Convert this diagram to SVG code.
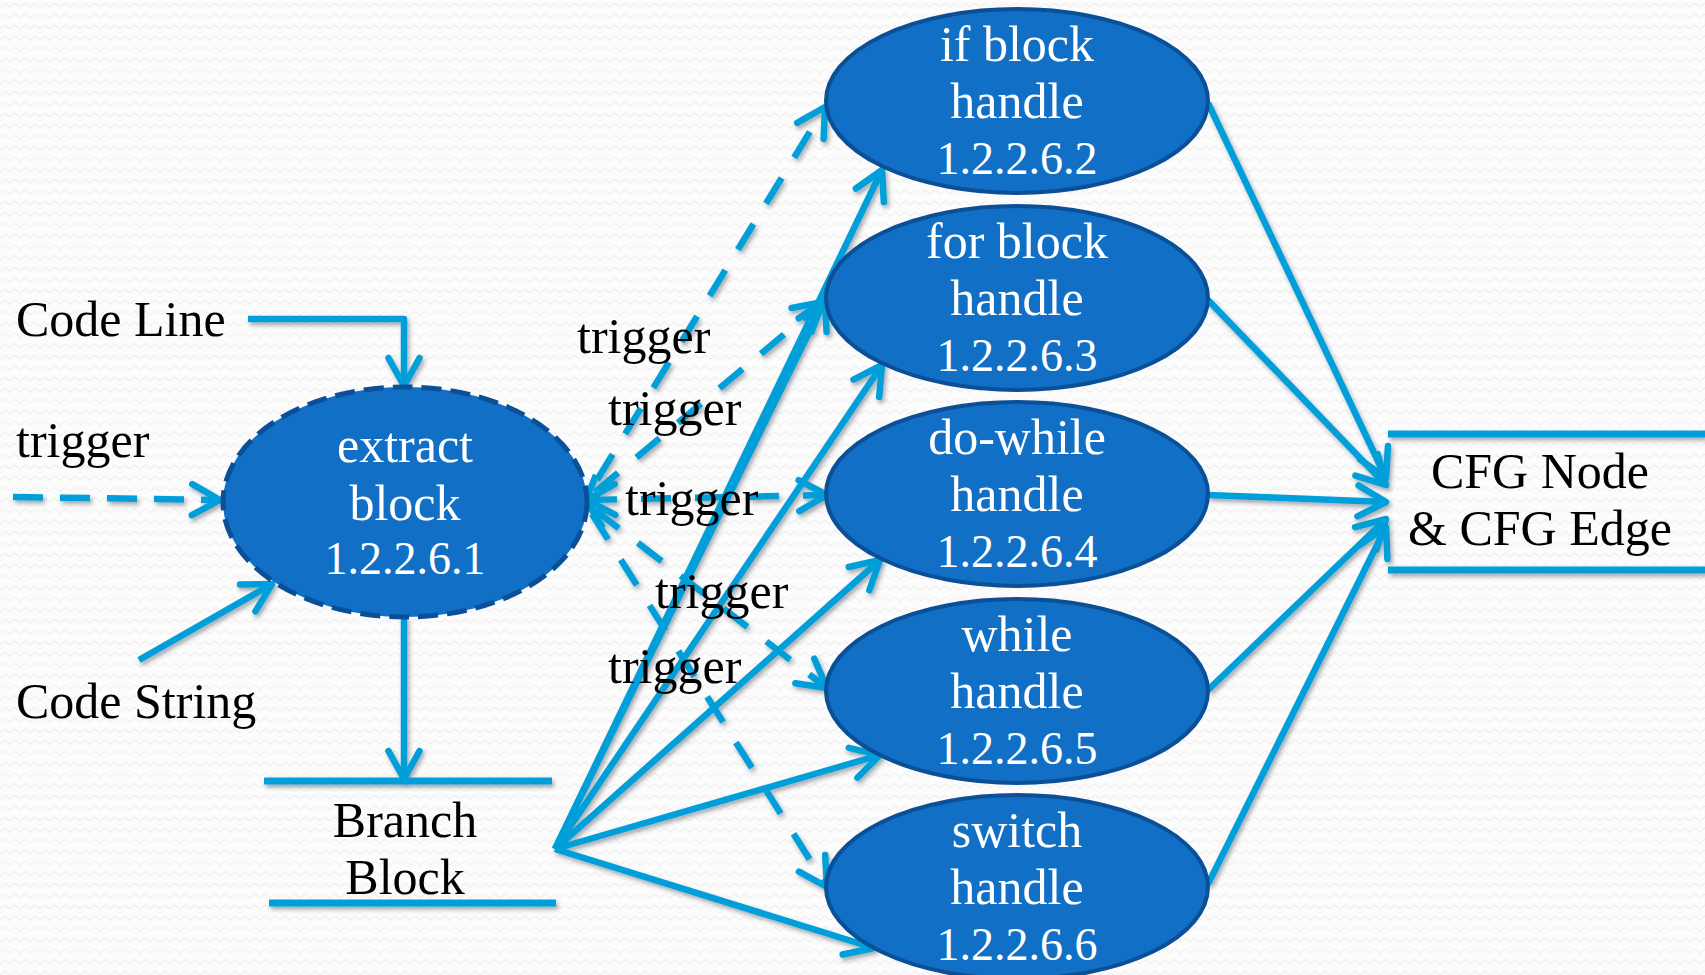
<svg xmlns="http://www.w3.org/2000/svg" width="1705" height="975" viewBox="0 0 1705 975">
  <defs>
    <style>
      .lbl { font-family: "Liberation Serif", "Times New Roman", serif; font-size: 50px; fill: #000; }
      .ntx { font-family: "Liberation Serif", "Times New Roman", serif; font-size: 50px; fill: #fff; text-anchor: middle; }
      .num { font-size: 46px; }
      .mid { text-anchor: middle; }
      .node { fill: #116fc6; stroke: #0b4f96; stroke-width: 4; }
      .node-dash { fill: #116fc6; stroke: #0b4f96; stroke-width: 5; stroke-dasharray: 20 9; }
      .c { fill: none; stroke: #049fd9; stroke-width: 6.5; stroke-linecap: butt; stroke-linejoin: round; }
      .dash { stroke-dasharray: 30 24; }
      .dash-in { stroke-dasharray: 30 17; }
      .store { fill: none; stroke: #049fd9; stroke-width: 7; }
      .end { marker-end: url(#ah); }
      .both { marker-start: url(#ahs); marker-end: url(#ah); }
    </style>
    <pattern id="bgwave" width="10" height="11" patternUnits="userSpaceOnUse">
      <rect width="10" height="11" fill="#fcfcfc"/>
      <path d="M0,7 L5,3 L10,7" fill="none" stroke="#f0f0f0" stroke-width="1.2"/>
    </pattern>
    <filter id="shadow" filterUnits="userSpaceOnUse" x="0" y="0" width="1705" height="975">
      <feDropShadow dx="2" dy="3" stdDeviation="2.2" flood-color="#203040" flood-opacity="0.4"/>
    </filter>
    <marker id="ah" markerUnits="userSpaceOnUse" markerWidth="70" markerHeight="70" viewBox="-40 -35 70 70" refX="0" refY="0" orient="auto" overflow="visible">
      <path d="M-28,-15.5 L0,0 L-28,15.5" fill="none" stroke="#049fd9" stroke-width="6.5" stroke-dasharray="none" stroke-linecap="round" stroke-linejoin="round"/>
    </marker>
    <marker id="ahs" markerUnits="userSpaceOnUse" markerWidth="70" markerHeight="70" viewBox="-40 -35 70 70" refX="0" refY="0" orient="auto-start-reverse" overflow="visible">
      <path d="M-28,-15.5 L0,0 L-28,15.5" fill="none" stroke="#049fd9" stroke-width="6.5" stroke-dasharray="none" stroke-linecap="round" stroke-linejoin="round"/>
    </marker>
  </defs>

  <!-- page background -->
  <rect width="1705" height="975" fill="url(#bgwave)"/>

  <!-- connectors -->
  <g id="connectors" filter="url(#shadow)">
    <!-- inputs to extract block -->
    <path class="c end" d="M248,319 H404 V386"/>
    <path class="c dash-in end" d="M13,497 L220,500"/>
    <path class="c end" d="M139,660 L272,584"/>
    <!-- extract block to branch store -->
    <path class="c end" d="M404,617 V779"/>

    <!-- trigger edges from extract block -->
    <path class="c dash end" d="M597,480 L825,107"/>
    <path class="c dash end" d="M595,492 L823,302"/>
    <path class="c dash both" d="M587,500 L827,495"/>
    <path class="c" d="M596,475 L586,500 L603,528"/>
    <path class="c dash end" d="M595,510 L827,688"/>
    <path class="c dash end" d="M592,514 L827,887"/>

    <!-- branch store fan-out to handlers -->
    <path class="c end" d="M555,849 L882,170"/>
    <path class="c end" d="M555,849 L825,300"/>
    <path class="c end" d="M555,849 L882,365"/>
    <path class="c end" d="M555,849 L880,560"/>
    <path class="c end" d="M555,849 L880,755"/>
    <path class="c end" d="M555,849 L874,948"/>

    <!-- handlers to CFG store -->
    <path class="c end" d="M1208,103 L1386,478"/>
    <path class="c end" d="M1208,300 L1386,485"/>
    <path class="c end" d="M1208,495 L1386,502"/>
    <path class="c end" d="M1208,690 L1386,519"/>
    <path class="c end" d="M1208,884 L1386,527"/>
  </g>

  <!-- input labels -->
  <g id="code-line"><text class="lbl" x="16" y="336">Code Line</text></g>
  <g id="trigger-in"><text class="lbl" x="16" y="457">trigger</text></g>
  <g id="code-string"><text class="lbl" x="16" y="718">Code String</text></g>

  <!-- process nodes -->
  <g id="extract-block">
    <ellipse class="node-dash" cx="405" cy="502" rx="182" ry="115"/>
    <text class="ntx" x="405" y="462">extract</text>
    <text class="ntx" x="405" y="520">block</text>
    <text class="ntx num" x="405" y="574">1.2.2.6.1</text>
  </g>

  <g id="if-block-handle">
    <ellipse class="node" cx="1017" cy="101" rx="191" ry="92"/>
    <text class="ntx" x="1017" y="61">if block</text>
    <text class="ntx" x="1017" y="118">handle</text>
    <text class="ntx num" x="1017" y="174">1.2.2.6.2</text>
  </g>

  <g id="for-block-handle">
    <ellipse class="node" cx="1017" cy="298" rx="191" ry="92"/>
    <text class="ntx" x="1017" y="258">for block</text>
    <text class="ntx" x="1017" y="315">handle</text>
    <text class="ntx num" x="1017" y="371">1.2.2.6.3</text>
  </g>

  <g id="do-while-handle">
    <ellipse class="node" cx="1017" cy="494" rx="191" ry="92"/>
    <text class="ntx" x="1017" y="454">do-while</text>
    <text class="ntx" x="1017" y="511">handle</text>
    <text class="ntx num" x="1017" y="567">1.2.2.6.4</text>
  </g>

  <g id="while-handle">
    <ellipse class="node" cx="1017" cy="691" rx="191" ry="92"/>
    <text class="ntx" x="1017" y="651">while</text>
    <text class="ntx" x="1017" y="708">handle</text>
    <text class="ntx num" x="1017" y="764">1.2.2.6.5</text>
  </g>

  <g id="switch-handle">
    <ellipse class="node" cx="1017" cy="887" rx="191" ry="92"/>
    <text class="ntx" x="1017" y="847">switch</text>
    <text class="ntx" x="1017" y="904">handle</text>
    <text class="ntx num" x="1017" y="960">1.2.2.6.6</text>
  </g>

  <!-- data stores -->
  <g id="branch-block">
    <path class="store" d="M264,781 H552 M269,903 H556" filter="url(#shadow)"/>
    <text class="lbl mid" x="405" y="837">Branch</text>
    <text class="lbl mid" x="405" y="894">Block</text>
  </g>

  <g id="cfg-node-edge">
    <path class="store" d="M1388,434 H1705 M1388,570 H1705" filter="url(#shadow)"/>
    <text class="lbl mid" x="1540" y="488">CFG Node</text>
    <text class="lbl mid" x="1540" y="545">&amp; CFG Edge</text>
  </g>

  <!-- trigger edge labels -->
  <g id="trigger-labels">
    <text class="lbl" x="577" y="353">trigger</text>
    <text class="lbl" x="608" y="425">trigger</text>
    <text class="lbl" x="625" y="515">trigger</text>
    <text class="lbl" x="655" y="608">trigger</text>
    <text class="lbl" x="608" y="683">trigger</text>
  </g>
</svg>
